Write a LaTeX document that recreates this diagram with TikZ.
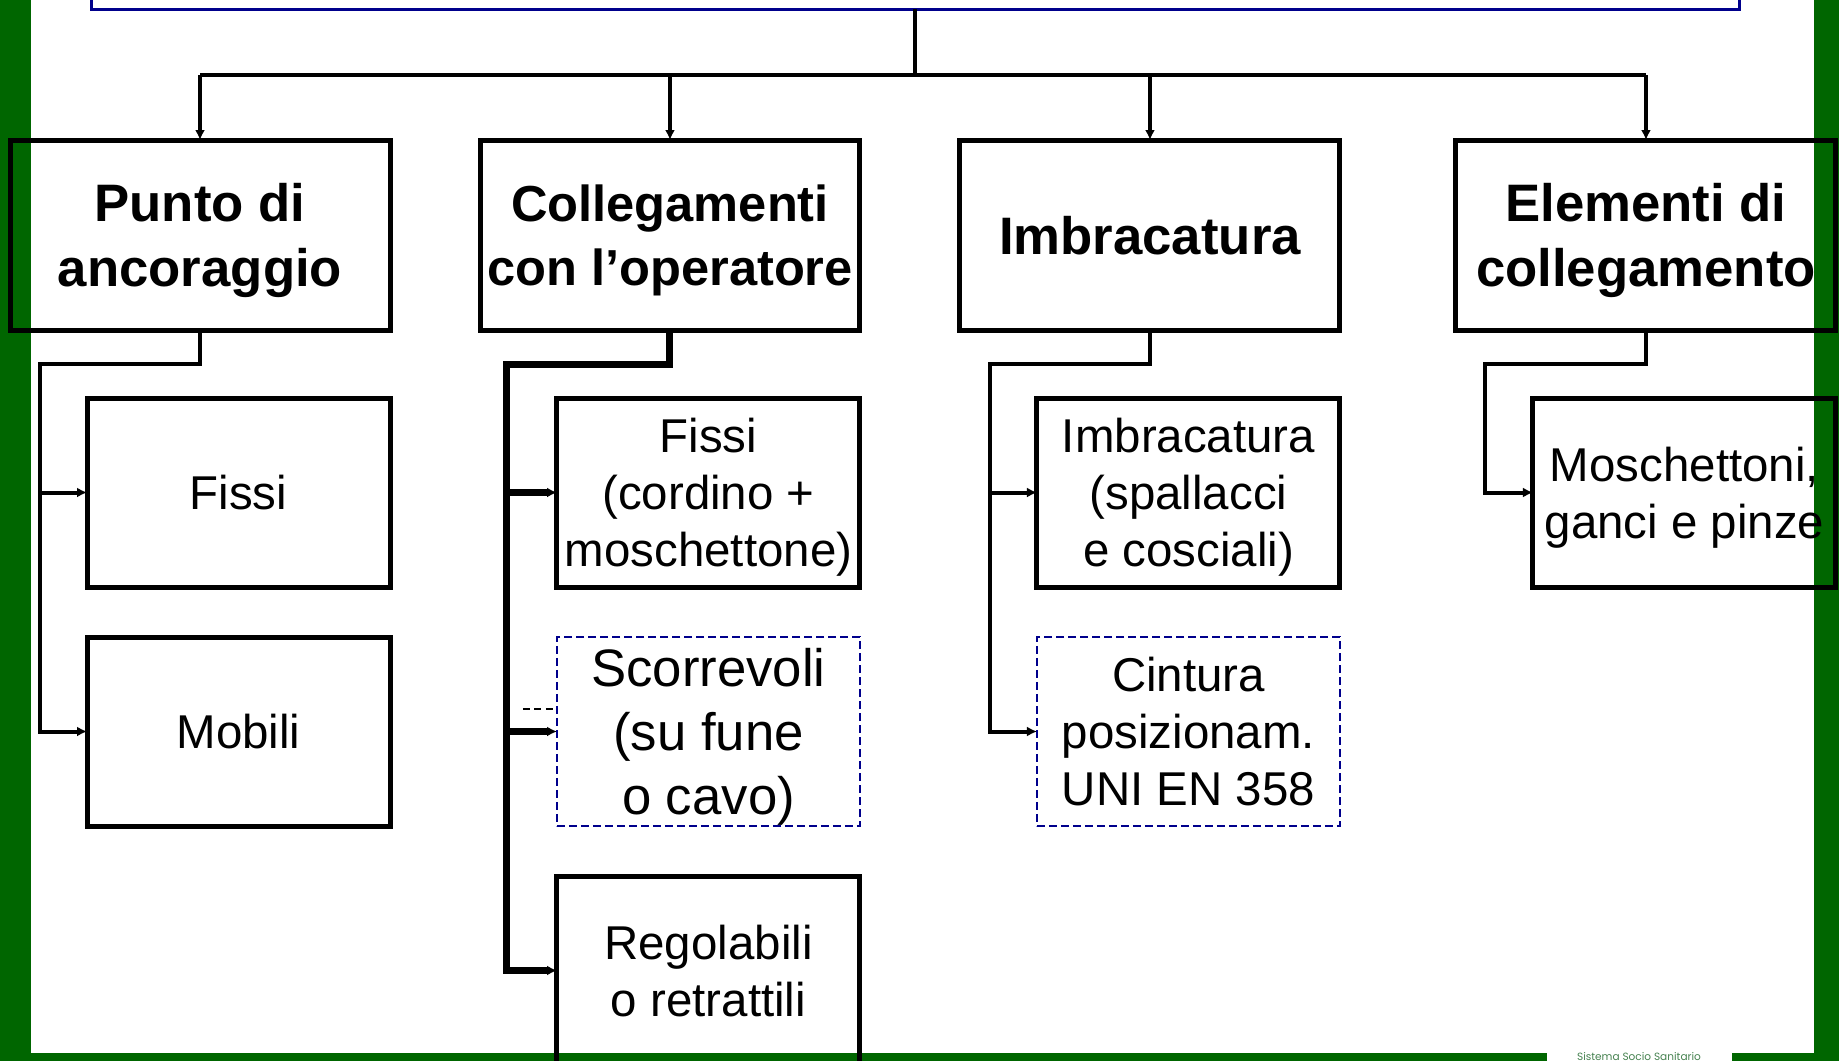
\documentclass[tikz,border=0pt]{standalone}
\usepackage{fontspec}
\setmainfont{Liberation Sans}
\newfontfamily\logofont{Poppins}
\usepackage{tikz}
\usetikzlibrary{arrows.meta,calc,positioning}
\definecolor{bg}{RGB}{0,102,0}
\definecolor{nv}{RGB}{0,0,140}
\definecolor{lg}{RGB}{70,130,80}

\begin{document}
\begin{tikzpicture}[
      x=0.1mm, y=-0.1mm,
      >={Latex[length=1mm,width=1mm]},
      box/.style={draw=black, line width=0.5mm, outer sep=0pt, inner sep=0pt, text depth=0pt, align=center},
      hdr/.style={box, minimum width=38mm, minimum height=19mm, font=\fontsize{15}{18.3}\selectfont\bfseries},
      item/.style={box, minimum width=30.3mm, minimum height=18.9mm, font=\fontsize{13.5}{16.3}\selectfont},
      itemdash/.style={item, draw=nv, line width=0.2mm, dash pattern=on 0.8mm off 0.4mm},
      link/.style={line width=0.4mm},
      linkbold/.style={line width=0.7mm},
]

\useasboundingbox (0,0) rectangle (1839,1061);
\clip (0,0) rectangle (1839,1061);

% slide frame
\fill[bg] (0,0) rectangle (31,1061);
\fill[bg] (1814,0) rectangle (1839,1061);
\fill[bg] (0,1053) rectangle (1547,1061);
\fill[bg] (1732,1053) rectangle (1839,1061);
\node[font=\logofont\fontsize{3}{3.6}\selectfont, text=lg, inner sep=0pt] (logo) at (1639,1057) {Sistema Socio Sanitario};

\node[draw=nv, line width=0.3mm, minimum width=164.8mm, minimum height=30mm, anchor=south, outer sep=0pt] (root) at (915,9) {};

\node[hdr] (anc) at (200,235) {Punto di\\ancoraggio};
\node[hdr, right=9mm of anc, font=\fontsize{14.4}{18.3}\selectfont\bfseries] (col) {Collegamenti\\con l’operatore};
\node[hdr, right=10mm of col] (imb) {Imbracatura};
\node[hdr, right=11.6mm of imb] (elem) {Elementi di\\collegamento};

\coordinate (hub) at ($(root.south)+(0,66)$);
\draw[link] (root.south) -- (hub);
\draw[link] (hub -| anc.north) -- (hub -| elem.north);
\foreach \n in {anc,col,imb,elem}
  \draw[link,->] (hub -| \n.north) -- (\n.north);

% anchorage points
\node[item, below=6.8mm of anc.south east, anchor=north east] (anc_fix) {Fissi};
\node[item, below=5mm of anc_fix] (anc_mob) {Mobili};
\coordinate (anc_k) at ($(anc_fix.north west)+(-47,-34)$);
\draw[link,->] (anc.south) |- (anc_k) |- (anc_mob.west);
\draw[link,->] (anc_k |- anc_fix.west) -- (anc_fix.west);

% links to the worker
\node[item, below=6.8mm of col.south east, anchor=north east] (col_fix) {Fissi\\(cordino +\\moschettone)};
\node[itemdash, below=5mm of col_fix, font=\fontsize{15}{18.3}\selectfont] (col_scor) {Scorrevoli\\(su fune\\o cavo)};
\node[item, below=5mm of col_scor] (col_reg) {Regolabili\\o retrattili};
\coordinate (col_k) at ($(col_fix.north west)+(-50,-34)$);
\draw[linkbold,->] (col.south) |- (col_k) |- (col_reg.west);
\draw[linkbold,->] (col_k |- col_fix.west) -- (col_fix.west);
\draw[linkbold,->] (col_k |- col_scor.west) -- (col_scor.west);
\coordinate (col_stub) at ($(col_scor.west)+(-34,-23)$);
\draw[line width=0.2mm, dash pattern=on 0.7mm off 0.45mm] (col_stub) -- (col_stub -| col_scor.west);

% harness
\node[item, below=6.8mm of imb.south east, anchor=north east] (imb_fix) {Imbracatura\\(spallacci\\e cosciali)};
\node[itemdash, below=5mm of imb_fix] (imb_cin) {Cintura\\posizionam.\\UNI EN 358};
\coordinate (imb_k) at ($(imb_fix.north west)+(-47,-34)$);
\draw[link,->] (imb.south) |- (imb_k) |- (imb_cin.west);
\draw[link,->] (imb_k |- imb_fix.west) -- (imb_fix.west);

% connecting elements
\node[item, below=6.8mm of elem.south east, anchor=north east] (elem_mos) {Moschettoni,\\ganci e pinze};
\coordinate (elem_k) at ($(elem_mos.north west)+(-48,-34)$);
\draw[link,->] (elem.south) |- (elem_k) |- (elem_mos.west);

\end{tikzpicture}
\end{document}
